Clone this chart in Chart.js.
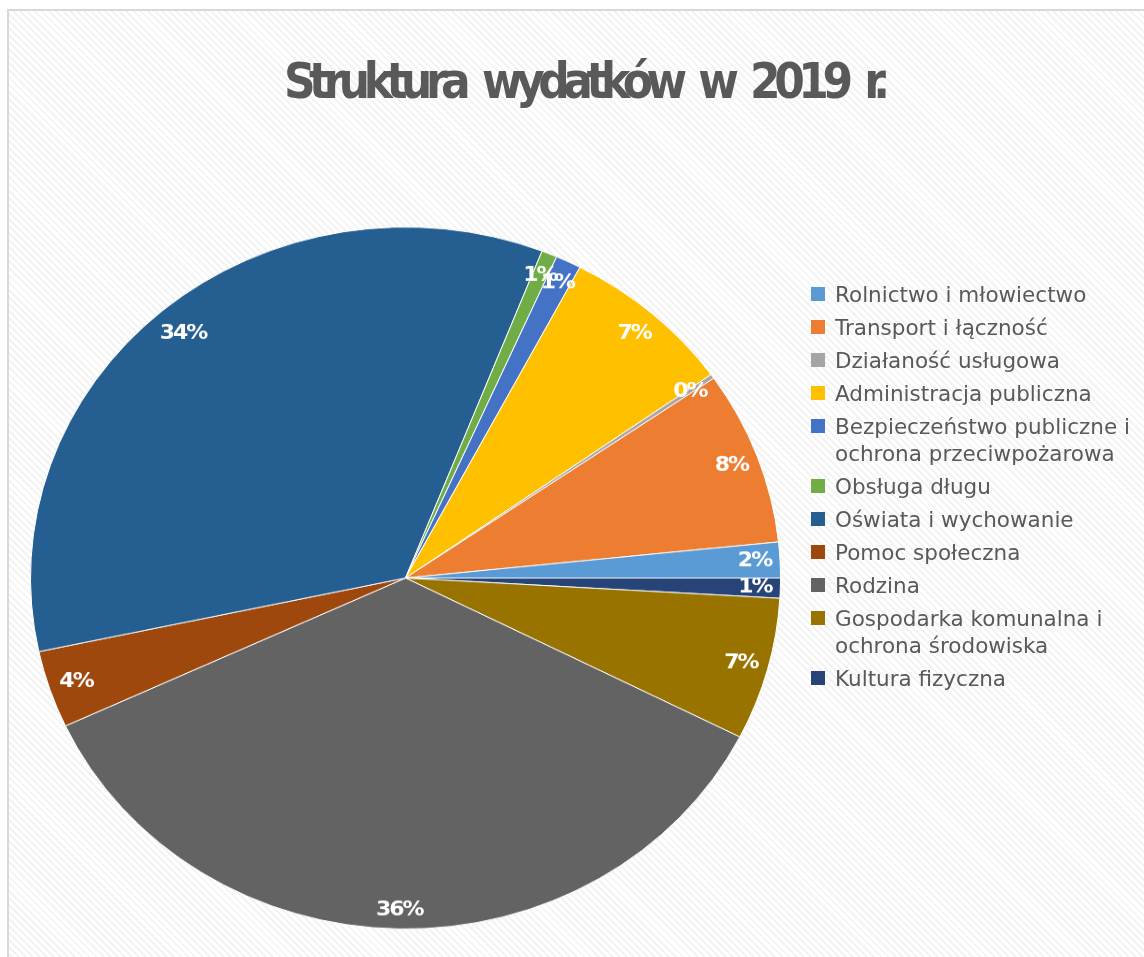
<!DOCTYPE html>
<html lang="pl">
<head>
<meta charset="utf-8">
<script src="https://cdn.jsdelivr.net/npm/chart.js@4.4.1/dist/chart.umd.min.js"></script>
<style>
  html, body { margin: 0; padding: 0; background: #fff; overflow: hidden; }
  body { width: 1144px; height: 957px; position: relative; font-family: 'DejaVu Sans', sans-serif; }
  #frame {
    position: absolute; left: 7px; top: 9px; right: -10px; bottom: -10px;
    border-left: 2px solid #d9d9d9; border-top: 2px solid #d9d9d9;
    background: repeating-linear-gradient(45deg, #fff 0 3px, #f3f3f3 3px 5px);
  }
  #title {
    position: absolute; top: 52px; left: 0; width: 1168px; text-align: center;
    font: bold 50px/58px 'DejaVu Sans', sans-serif; color: #595959; white-space: nowrap;
  }
  #title-text { display: inline-block; transform: scaleX(0.88); transform-origin: 50% 50%; word-spacing: 10px; }
  #stage {
    position: absolute; left: 0; top: 0; width: 1144px; height: 1022px;
    transform: scaleY(0.936); transform-origin: 0 0;
  }
  #legend { position: absolute; left: 811px; top: 280.5px; display: flex; flex-direction: column; gap: 6px; }
  .item { display: flex; align-items: flex-start; font-size: 21.5px; line-height: 27px; color: #595959; }
  .swatch { width: 14px; height: 14px; margin-top: 6.5px; margin-right: 10px; flex: none; }
  .item span { width: 305px; }
</style>
</head>
<body>
<div id="frame"></div>
<div id="stage"><canvas id="pie" width="1144" height="1022"></canvas></div>
<div id="title"><span id="title-text">Struktura wydatków w 2019 r.</span></div>
<div id="legend"></div>
<script>
const categories = [
  'Rolnictwo i młowiectwo',
  'Transport i łączność',
  'Działaność usługowa',
  'Administracja publiczna',
  'Bezpieczeństwo publiczne i ochrona przeciwpożarowa',
  'Obsługa długu',
  'Oświata i wychowanie',
  'Pomoc społeczna',
  'Rodzina',
  'Gospodarka komunalna i ochrona środowiska',
  'Kultura fizyczna'
];
const shares = [1.64, 8.0, 0.2, 7.46, 1.1, 0.67, 34.3, 3.56, 35.6, 6.56, 0.92];
const colors = ['#5b9bd5', '#ed7d31', '#a5a5a5', '#ffc000', '#4472c4', '#70ad47', '#255e91', '#9e480e', '#636363', '#997300', '#264478'];

// title is squeezed to the width it has in the original (600px)
const titleScale = 0.88;
const titleText = document.getElementById('title-text');
const naturalWidth = titleText.offsetWidth;
titleText.style.letterSpacing = ((600 / titleScale - naturalWidth) / titleText.textContent.length) + 'px';

const legend = document.getElementById('legend');
categories.forEach((name, i) => {
  const item = document.createElement('div');
  item.className = 'item';
  item.innerHTML = `<div class="swatch" style="background:${colors[i]}"></div><span>${name}</span>`;
  legend.appendChild(item);
});

// labels sit at the inside end of each slice, box kept just inside the rim
const sliceLabels = {
  id: 'sliceLabels',
  afterDatasetsDraw(chart) {
    const c = chart.ctx;
    const meta = chart.getDatasetMeta(0);
    const data = chart.data.datasets[0].data;
    const total = data.reduce((a, b) => a + b, 0);
    c.save();
    c.font = 'bold 22px "DejaVu Sans"';
    c.letterSpacing = '-2px';
    c.fillStyle = '#fff';
    c.textAlign = 'center';
    c.textBaseline = 'middle';
    meta.data.forEach((arc, i) => {
      const { x, y, startAngle, endAngle, outerRadius } = arc.getProps(['x', 'y', 'startAngle', 'endAngle', 'outerRadius'], true);
      const text = Math.round(data[i] / total * 100) + '%';
      const hw = c.measureText(text).width / 2;
      const hh = 11;
      const limit = outerRadius * 0.98;
      const mid = (startAngle + endAngle) / 2;
      const cos = Math.cos(mid), sin = Math.sin(mid);
      let d = limit;
      while (d > 0) {
        const px = cos * d, py = sin * d;
        const fits = [[-hw, -hh], [hw, -hh], [-hw, hh], [hw, hh]]
          .every(([ox, oy]) => Math.hypot(px + ox, py + oy) <= limit);
        if (fits) break;
        d -= 1;
      }
      c.fillText(text, x + cos * d, y + sin * d);
    });
    c.restore();
  }
};

// slices run counter-clockwise in the original, so feed them reversed
const order = categories.map((_, i) => i).reverse();

new Chart(document.getElementById('pie').getContext('2d'), {
  type: 'pie',
  data: {
    labels: order.map(i => categories[i]),
    datasets: [{
      data: order.map(i => shares[i]),
      backgroundColor: order.map(i => colors[i]),
      borderColor: '#ffffff',
      borderWidth: 1,
      rotation: 90
    }]
  },
  options: {
    responsive: false,
    animation: false,
    rotation: 90,
    radius: 375,
    layout: { padding: { left: 30.5, right: 363.5, top: 242.5, bottom: 29.5 } },
    plugins: {
      legend: { display: false },
      tooltip: { enabled: false }
    }
  },
  plugins: [sliceLabels]
});
</script>
</body>
</html>
